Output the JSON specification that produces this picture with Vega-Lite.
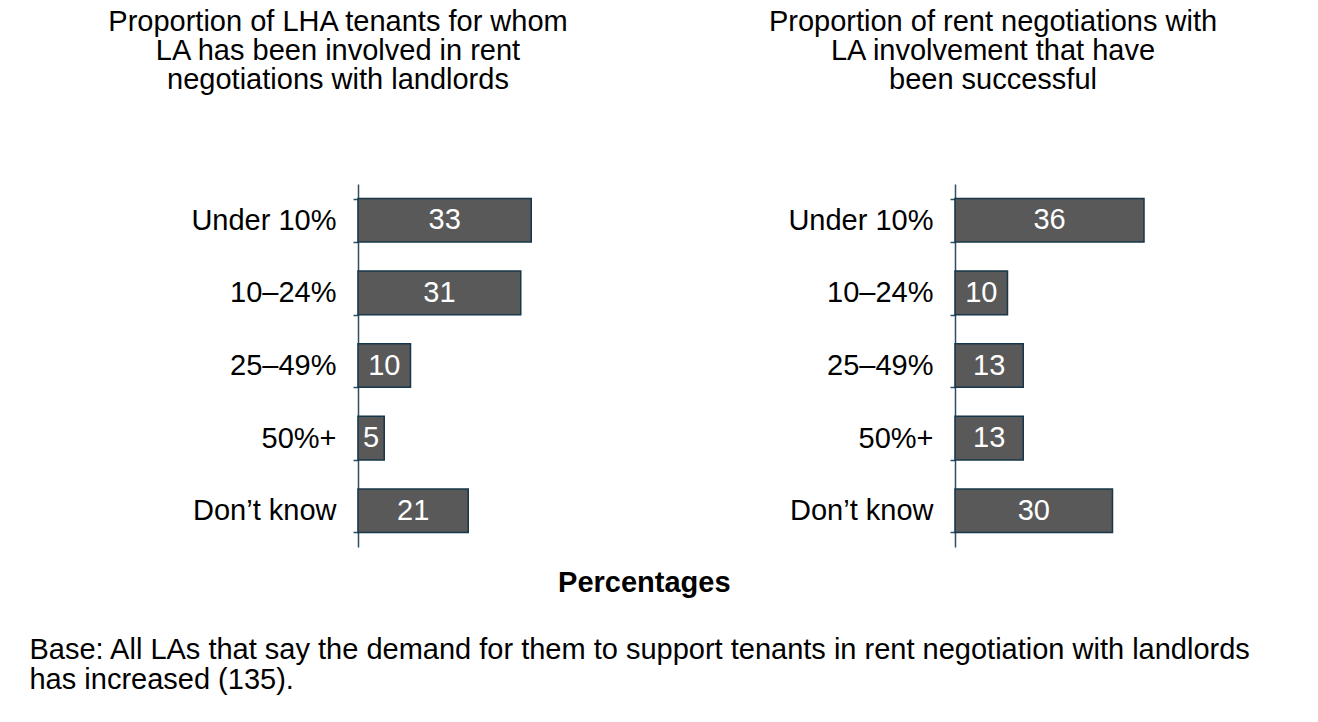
{
  "$schema": "https://vega.github.io/schema/vega-lite/v6.json",
  "background": "white",
  "padding": {"left": 29, "top": 8, "right": 5, "bottom": 5},
  "data": {"values": [
    {"panel": "left", "category": "Under 10%", "value": 33},
    {"panel": "left", "category": "10–24%", "value": 31},
    {"panel": "left", "category": "25–49%", "value": 10},
    {"panel": "left", "category": "50%+", "value": 5},
    {"panel": "left", "category": "Don’t know", "value": 21},
    {"panel": "right", "category": "Under 10%", "value": 36},
    {"panel": "right", "category": "10–24%", "value": 10},
    {"panel": "right", "category": "25–49%", "value": 13},
    {"panel": "right", "category": "50%+", "value": 13},
    {"panel": "right", "category": "Don’t know", "value": 30}
  ]},
  "title": {
    "text": ["Base: All LAs that say the demand for them to support tenants in rent negotiation with landlords", "has increased (135)."],
    "orient": "bottom", "anchor": "start", "fontSize": 29, "fontWeight": "normal", "color": "black", "lineHeight": 30, "dx": -78, "offset": 38
  },
  "vconcat": [
    {
      "title": {"text": "Percentages", "orient": "bottom", "anchor": "middle", "fontSize": 29, "fontWeight": "bold", "color": "black", "dx": -18, "offset": 22},
      "spacing": 199,
      "hconcat": [
        {
          "width": 210, "height": 363,
          "title": {"text": ["Proportion of LHA tenants for whom", "LA has been involved in rent", "negotiations with landlords"], "anchor": "middle", "frame": "group", "dx": -125, "offset": 75, "fontSize": 29, "fontWeight": "normal", "color": "black", "lineHeight": 29},
          "transform": [{"filter": "datum.panel === 'left'"}],
          "encoding": {
            "y": {"field": "category", "type": "nominal", "sort": ["Under 10%", "10–24%", "25–49%", "50%+", "Don’t know"], "title": null,
              "scale": {"paddingInner": 0.4, "paddingOuter": 0.2},
              "axis": {"tickBand": "extent", "tickSize": 5, "labelPadding": 17, "labelFontSize": 29, "labelColor": "black", "domainColor": "#2e4e61", "tickColor": "#2e4e61", "domainWidth": 1.5, "tickWidth": 1.5}}
          },
          "layer": [
            {"mark": {"type": "bar", "fill": "#595959", "stroke": "#17374a", "strokeWidth": 1.5},
             "encoding": {"x": {"field": "value", "type": "quantitative", "scale": {"domain": [0, 40], "nice": false}, "axis": null}}},
            {"mark": {"type": "text", "color": "white", "fontSize": 29, "align": "center", "baseline": "middle"},
             "encoding": {"x": {"field": "value", "type": "quantitative", "scale": {"domain": [0, 80], "nice": false}, "axis": null}, "text": {"field": "value", "type": "quantitative"}}}
          ],
          "resolve": {"scale": {"x": "independent"}}
        },
        {
          "width": 210, "height": 363,
          "title": {"text": ["Proportion of rent negotiations with", "LA involvement that have", "been successful"], "anchor": "middle", "frame": "group", "dx": -67, "offset": 75, "fontSize": 29, "fontWeight": "normal", "color": "black", "lineHeight": 29},
          "transform": [{"filter": "datum.panel === 'right'"}],
          "encoding": {
            "y": {"field": "category", "type": "nominal", "sort": ["Under 10%", "10–24%", "25–49%", "50%+", "Don’t know"], "title": null,
              "scale": {"paddingInner": 0.4, "paddingOuter": 0.2},
              "axis": {"tickBand": "extent", "tickSize": 5, "labelPadding": 17, "labelFontSize": 29, "labelColor": "black", "domainColor": "#2e4e61", "tickColor": "#2e4e61", "domainWidth": 1.5, "tickWidth": 1.5}}
          },
          "layer": [
            {"mark": {"type": "bar", "fill": "#595959", "stroke": "#17374a", "strokeWidth": 1.5},
             "encoding": {"x": {"field": "value", "type": "quantitative", "scale": {"domain": [0, 40], "nice": false}, "axis": null}}},
            {"mark": {"type": "text", "color": "white", "fontSize": 29, "align": "center", "baseline": "middle"},
             "encoding": {"x": {"field": "value", "type": "quantitative", "scale": {"domain": [0, 80], "nice": false}, "axis": null}, "text": {"field": "value", "type": "quantitative"}}}
          ],
          "resolve": {"scale": {"x": "independent"}}
        }
      ]
    }
  ],
  "config": {
    "font": "Liberation Sans",
    "view": {"stroke": null},
    "axis": {"labelFont": "Liberation Sans"},
    "title": {"font": "Liberation Sans"},
    "text": {"font": "Liberation Sans"}
  }
}
